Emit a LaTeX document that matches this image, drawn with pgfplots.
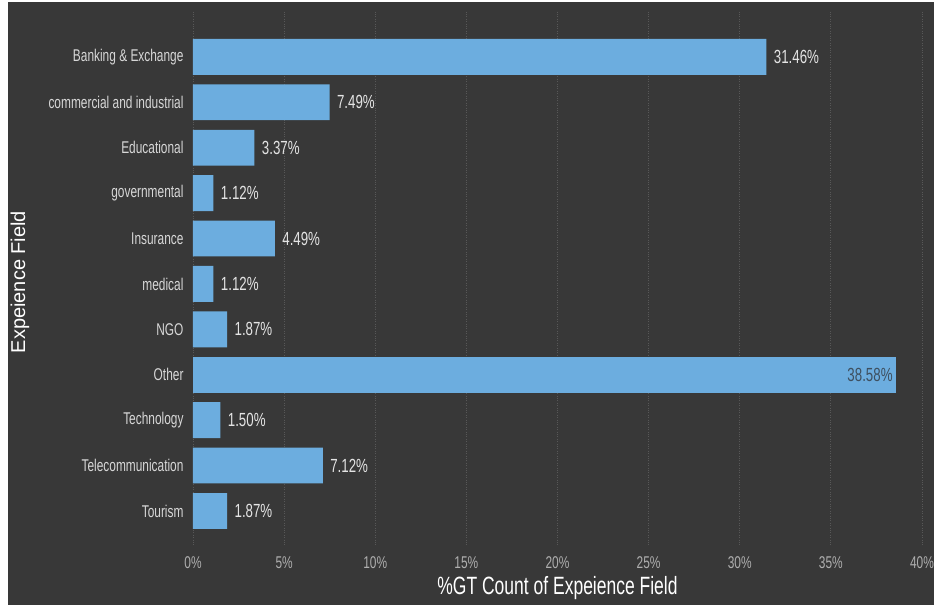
\documentclass[border=0pt]{standalone}
\usepackage{pgfplots}
\pgfplotsset{compat=1.18}
\usepackage{fontspec}
\setmainfont{Liberation Sans}[FakeStretch=0.70]
\newfontfamily\ylabfont{Liberation Sans}
\definecolor{bg}{RGB}{56,56,56}
\definecolor{barc}{RGB}{108,173,223}
\definecolor{gridc}{RGB}{88,88,88}
\definecolor{catc}{RGB}{215,215,215}
\definecolor{tickc}{RGB}{175,175,175}
\definecolor{valc}{RGB}{228,228,228}
\definecolor{inc}{RGB}{62,80,96}
\begin{document}
\begin{tikzpicture}
\fill[white] (-193pt,-60pt) rectangle (741pt,545pt);
\fill[bg] (-185pt,-60pt) rectangle (741pt,543pt);
\begin{axis}[
  at={(0,0)}, anchor=south west,
  scale only axis,
  width=729pt, height=533.5pt,
  xbar, bar width=0.79, /pgf/bar shift=0pt,
  xmin=0, xmax=40,
  ymin=-1, ymax=10.75,
  y dir=reverse,
  ytick={0,...,10},
  yticklabels={Banking \& Exchange, commercial and industrial, Educational, governmental, Insurance, medical, NGO, Other, Technology, Telecommunication, Tourism},
  xtick={0,5,...,40},
  xticklabel={\pgfmathprintnumber{\tick}\%},
  /pgf/number format/assume math mode=true,
  major tick length=0pt,
  axis line style={draw=none},
  xmajorgrids, ymajorgrids=false,
  grid style={dotted, gridc, line width=0.8pt},
  yticklabel style={font=\fontsize{17}{20}\selectfont, text=catc, xshift=-6pt},
  xticklabel style={font=\fontsize{17}{20}\selectfont, text=tickc, yshift=-8pt},
  xlabel={\%GT Count of Expeience Field},
  xlabel style={font=\fontsize{25}{28}\selectfont, text=white, at={(axis description cs:0.5,0)}, anchor=center, yshift=-43pt},
  ylabel={\ylabfont Expeience Field},
  ylabel style={font=\fontsize{20}{24}\selectfont, text=white, at={(axis description cs:-0.2373,0.493)}, anchor=center, rotate=0},
  nodes near coords={\pgfmathprintnumber[fixed,fixed zerofill,precision=2]{\pgfplotspointmeta}\%},
  nodes near coords style={font=\fontsize{19}{22}\selectfont, text=valc, anchor=west, xshift=4pt},
]
\addplot[fill=barc, draw=none] coordinates {
(31.46,0) (7.49,1) (3.37,2) (1.12,3) (4.49,4) (1.12,5) (1.87,6) (1.50,8) (7.12,9) (1.87,10)
};
\addplot[fill=barc, draw=none, nodes near coords style={text=inc, anchor=east, xshift=-4pt}] coordinates {
(38.58,7)
};
\end{axis}
\pgfresetboundingbox
\path (-193pt,-60pt) rectangle (741pt,545pt);
\end{tikzpicture}
\end{document}
